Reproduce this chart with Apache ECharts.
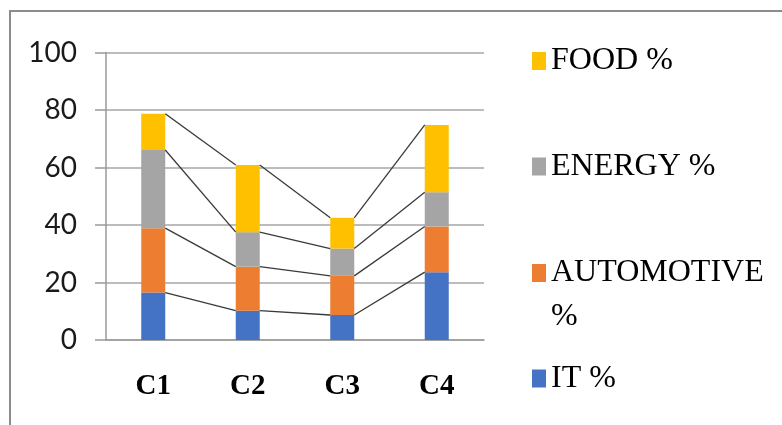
<!DOCTYPE html>
<html>
<head>
<meta charset="utf-8">
<script src="https://cdn.jsdelivr.net/npm/echarts@6/dist/echarts.min.js"></script>
<style>
  html, body { margin: 0; padding: 0; background: #fff; }
  #chart { width: 782px; height: 425px; }
</style>
</head>
<body>
<div id="chart"></div>
<script>
// Sector shares per company
const categories = ['C1', 'C2', 'C3', 'C4'];
const itShare = [16.5, 10.2, 8.7, 23.6];
const automotiveShare = [22.4, 15.3, 13.6, 15.9];
const energyShare = [27.2, 12.0, 9.5, 11.9];
const foodShare = [12.6, 23.4, 10.7, 23.4];
const yTicks = { min: 0, max: 100, step: 20 };

const seriesDefs = [
  { name: 'IT %', data: itShare, color: '#4472C4' },
  { name: 'AUTOMOTIVE %', data: automotiveShare, color: '#ED7D31' },
  { name: 'ENERGY %', data: energyShare, color: '#A5A5A5' },
  { name: 'FOOD %', data: foodShare, color: '#FFC000' }
];

const BAR_RATIO = 0.254;

// Running totals at the top of each stacked segment
const cumulative = [];
let running = categories.map(() => 0);
seriesDefs.forEach(s => {
  running = running.map((v, i) => v + s.data[i]);
  cumulative.push(running.slice());
});

// Connector segments between neighbouring columns: [fromIndex, fromValue, toValue]
const connectorData = [];
cumulative.forEach(level => {
  for (let i = 0; i < categories.length - 1; i++) {
    connectorData.push([i, level[i], level[i + 1]]);
  }
});

const chart = echarts.init(document.getElementById('chart'), null, { renderer: 'canvas' });

const serif = '"Liberation Serif", "Times New Roman", serif';

function legendFor(name, top, multiLine) {
  const l = {
    data: [name],
    orient: 'vertical',
    left: 532,
    top: top,
    padding: 0,
    icon: 'rect',
    itemWidth: 14,
    itemHeight: 18,
    selectedMode: false,
    textStyle: { fontFamily: serif, fontSize: 32, color: '#000', lineHeight: multiLine ? 44 : 34 }
  };
  if (multiLine) {
    // empty first line keeps the label's first text row level with the swatch
    l.formatter = '\nAUTOMOTIVE\n%';
  }
  return l;
}

const option = {
  animation: false,
  backgroundColor: '#fff',
  graphic: [{
    type: 'rect',
    shape: { x: 10, y: 11, width: 900, height: 600 },
    style: { fill: 'none', stroke: '#8c8c8c', lineWidth: 2 },
    silent: true
  }],
  legend: [
    legendFor('FOOD %', 61 - 17, false),
    legendFor('ENERGY %', 166.5 - 17, false),
    legendFor('AUTOMOTIVE %', 273 - 66, true),
    legendFor('IT %', 378.5 - 17, false)
  ],
  grid: { left: 106, right: 298, top: 52.5, bottom: 85, containLabel: false },
  xAxis: {
    type: 'category',
    data: categories,
    axisTick: { show: false },
    axisLine: { lineStyle: { color: '#9a9a9a', width: 1.5 } },
    axisLabel: {
      margin: 32,
      fontFamily: serif,
      fontWeight: 'bold',
      fontSize: 29,
      color: '#000'
    }
  },
  yAxis: {
    type: 'value',
    min: yTicks.min,
    max: yTicks.max,
    interval: yTicks.step,
    axisLine: { show: true, lineStyle: { color: '#9a9a9a', width: 1.5 } },
    axisTick: { show: true, length: 11, lineStyle: { color: '#9a9a9a', width: 1.5 } },
    splitLine: { lineStyle: { color: '#a6a6a6', width: 1.5 } },
    axisLabel: {
      margin: 29,
      fontFamily: 'Lato, "Liberation Sans", sans-serif',
      fontSize: 28,
      color: '#1a1a1a'
    }
  },
  series: seriesDefs.map(s => ({
    name: s.name,
    type: 'bar',
    stack: 'total',
    barWidth: (BAR_RATIO * 100) + '%',
    data: s.data,
    itemStyle: { color: s.color },
    z: 2
  })).concat([{
    name: 'connectors',
    type: 'custom',
    data: connectorData,
    encode: { x: 0, y: [1, 2] },
    z: 3,
    silent: true,
    renderItem: function (params, api) {
      const i = api.value(0);
      const a = api.coord([i, api.value(1)]);
      const b = api.coord([i + 1, api.value(2)]);
      const half = api.size([1, 0])[0] * BAR_RATIO / 2;
      return {
        type: 'line',
        shape: { x1: a[0] + half, y1: a[1], x2: b[0] - half, y2: b[1] },
        style: { stroke: '#3a3a3a', lineWidth: 1.3 }
      };
    }
  }])
};

chart.setOption(option);
</script>
</body>
</html>
